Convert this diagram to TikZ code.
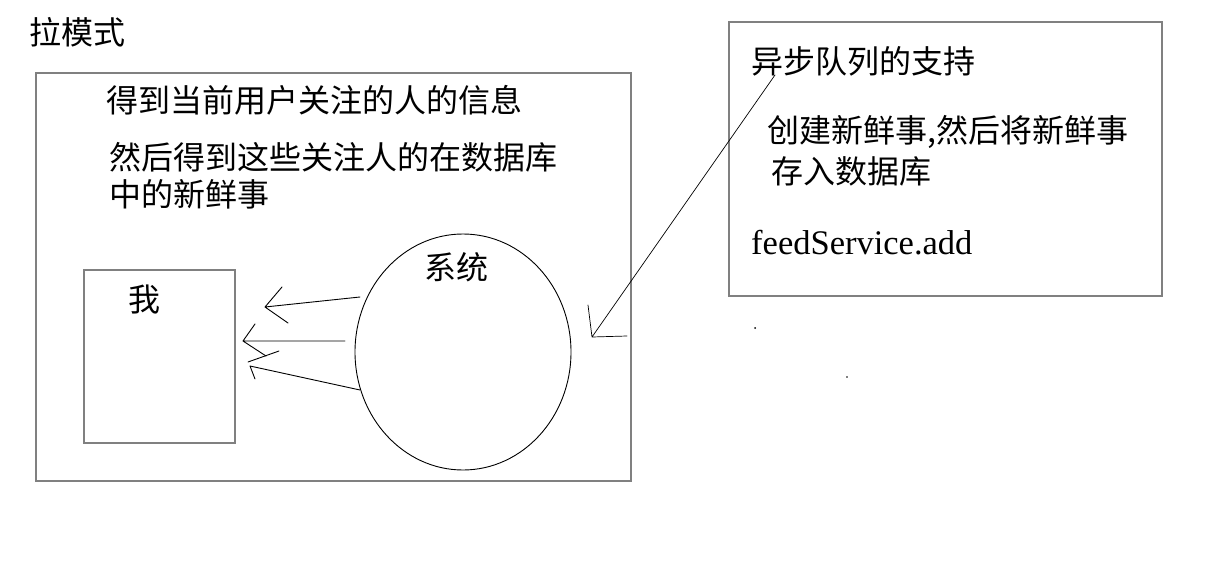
\documentclass[tikz,border=0pt]{standalone}
\usepackage{fontspec}
\newfontfamily\cjk{Noto Sans CJK SC}
\newfontfamily\serifl{Liberation Serif}
\begin{document}
\begin{tikzpicture}[x=1pt,y=-1pt,
  frame/.style={draw=black!50,line width=1.4pt},
  txt/.style={inner sep=0pt,anchor=west,font=\cjk\fontsize{32}{38}\selectfont},
  pen/.style={draw=black,line width=0.9pt,line cap=round,line join=round}]
\useasboundingbox[fill=white] (0,0) rectangle (1223,578);
% title
\node[txt] (title) at (29,32) {拉模式};
% left outer box
\node[frame,minimum width=595pt,minimum height=408pt,inner sep=0pt] (outer) at (333.5,277) {};
\node[txt] (t1) at (106,100) {得到当前用户关注的人的信息};
\node[txt] (t2) at (109,157) {然后得到这些关注人的在数据库};
\node[txt] (t3) at (109,194) {中的新鲜事};
% me box
\node[frame,minimum width=151pt,minimum height=173pt,inner sep=0pt] (me) at (159.5,356.5) {};
\node[txt] (metext) at (128,300) {我};
% system ellipse
\draw[pen] (463,352) ellipse [x radius=108,y radius=118];
\coordinate (sys) at (463,352);
\node[txt,anchor=center] (systext) at (456,267) {系统};
% arrows from system to me (hand drawn)
\coordinate (a1s) at (360,297); \coordinate (a1t) at (265,307);
\coordinate (a1u) at (282,287); \coordinate (a1d) at (288,323);
\draw[pen] (a1s) -- (a1t) (a1u) -- (a1t) -- (a1d);
\coordinate (a2s) at (345,341); \coordinate (a2t) at (243,341);
\coordinate (a2u) at (255,324); \coordinate (a2d) at (266,356);
\draw[pen] (a2s) -- (a2t) (a2u) -- (a2t) -- (a2d);
\coordinate (a3s) at (360,390); \coordinate (a3t) at (250,366);
\coordinate (a3u) at (279,351); \coordinate (a3k) at (248,362); \coordinate (a3d) at (255,379);
\draw[pen] (a3s) -- (a3t) -- (a3d) (a3k) -- (a3u);
% right box
\node[frame,minimum width=433pt,minimum height=274pt,inner sep=0pt] (queue) at (945.5,159) {};
\node[txt] (q1) at (751,61) {异步队列的支持};
\node[txt] (q2) at (767,132) {创建新鲜事,然后将新鲜事};
\node[txt] (q3) at (771,171) {存入数据库};
\node[inner sep=0pt,anchor=west,font=\serifl\fontsize{34.5}{40}\selectfont] (q4) at (751,243) {feedService.add};
% diagonal arrow
\coordinate (ds) at (775,75); \coordinate (dt) at (592,337);
\coordinate (du) at (588,305); \coordinate (dr) at (627,336);
\draw[pen,line width=0.7pt] (ds) -- (dt) (du) -- (dt) -- (dr);
% stray dots
\fill (755,328) circle (1);
\fill (847,377) circle (0.8);
\end{tikzpicture}
\end{document}
